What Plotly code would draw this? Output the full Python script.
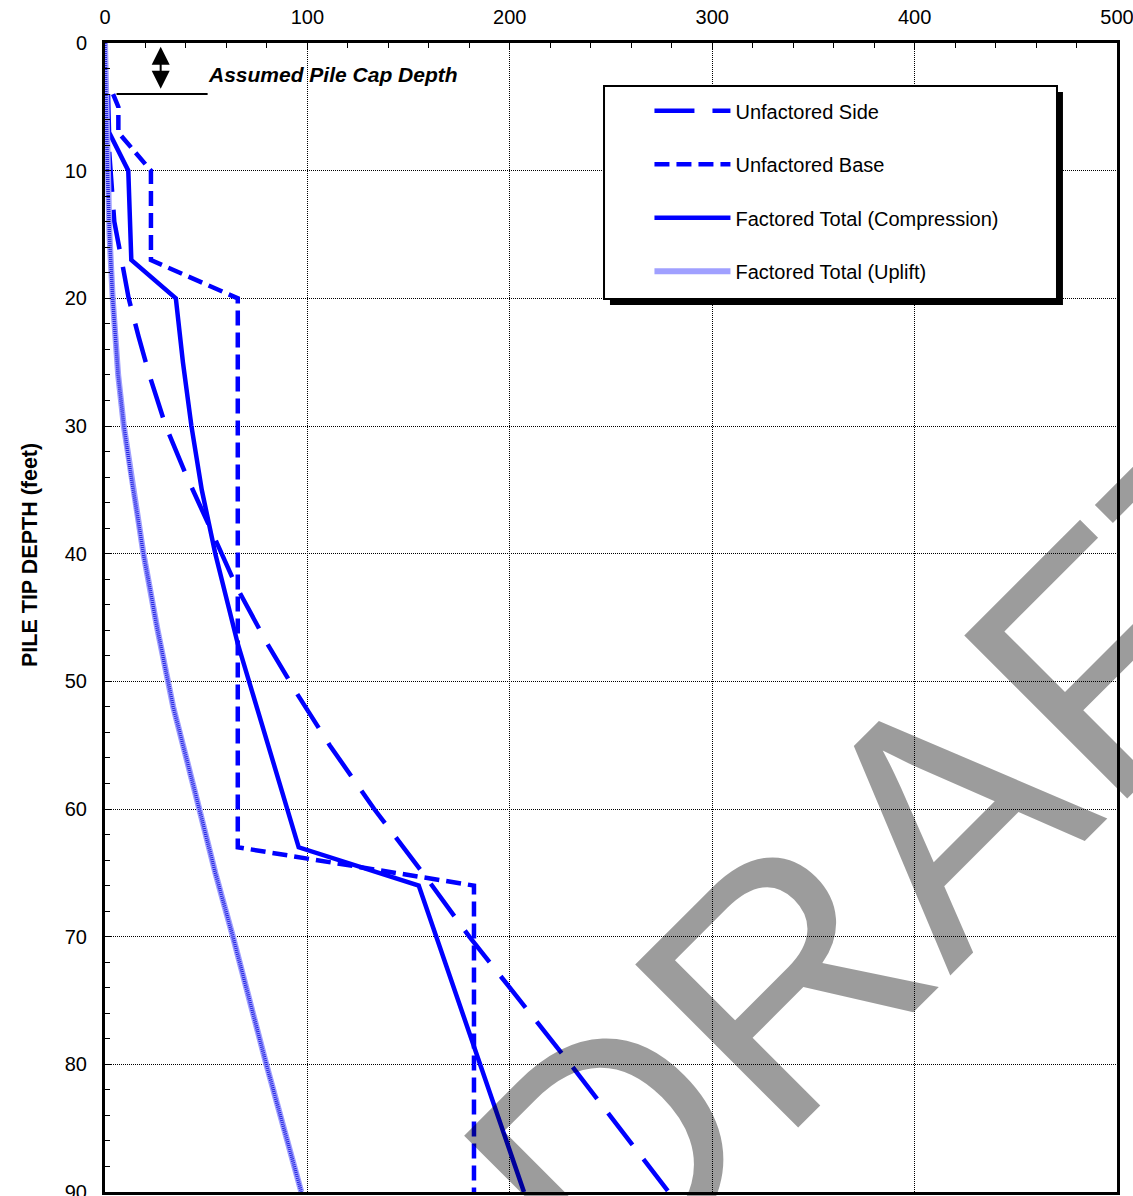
import plotly.graph_objects as go

# ---- capacity curves (kips) versus pile tip depth (feet) ----
depth_side = [4, 9, 12, 14, 17, 20, 23, 26, 30, 34, 38, 42.6, 47, 51, 55, 60, 65, 70, 76.6, 80, 90]
side = [0, 2.4, 3.4, 4.6, 8.2, 11.7, 16.6, 21.9, 30, 40.5, 52, 65, 80, 95, 111, 133, 157, 180, 213, 230, 278.5]

depth_base = [4, 5, 7, 10, 17, 20, 63, 66, 90]
base = [4.0, 6.6, 6.6, 22.7, 22.7, 65.6, 65.6, 182.3, 182.3]

depth_comp = [4, 7, 10, 17, 20, 25, 30, 35, 40, 47, 63, 66, 90]
comp = [1.5, 2.0, 11.5, 13.0, 35.0, 38.5, 42.7, 47.8, 54.5, 65.5, 95.7, 155.0, 207.0]

depth_up = [0, 5, 10, 15, 20, 26, 30, 34, 40, 46, 52, 59, 65, 70, 80, 90]
uplift = [0, 0.5, 1.2, 2.2, 3.8, 6.5, 9.3, 13.0, 19.0, 26.0, 33.7, 45.0, 54.5, 63.2, 79.7, 97.0]

series_names = ["Unfactored Side", "Unfactored Base",
                "Factored Total (Compression)", "Factored Total (Uplift)"]

x_ticks = [0, 100, 200, 300, 400, 500]
y_ticks = [0, 10, 20, 30, 40, 50, 60, 70, 80, 90]

CAP_DEPTH = 4
CAP_LABEL = "Assumed Pile Cap Depth"
Y_TITLE = "PILE TIP DEPTH (feet)"
WATERMARK = "DRAFT"

BLUE = "#0000FF"
FONT = "Arial, Liberation Sans, sans-serif"

fig = go.Figure()

fig.add_trace(go.Scatter(
    x=side, y=depth_side, mode="lines", name=series_names[0], legendgroup="g1",
    line=dict(color=BLUE, width=4.5, dash="40px,18px")))
fig.add_trace(go.Scatter(
    x=base, y=depth_base, mode="lines", name=series_names[1], legendgroup="g2",
    line=dict(color=BLUE, width=4.5, dash="15px,7px")))
fig.add_trace(go.Scatter(
    x=comp, y=depth_comp, mode="lines", name=series_names[2], legendgroup="g3",
    line=dict(color=BLUE, width=4.5)))
# uplift: pale band with a fine blue stipple on top
fig.add_trace(go.Scatter(
    x=uplift, y=depth_up, mode="lines", name=series_names[3], legendgroup="g4",
    line=dict(color="#a0a0ff", width=6)))
fig.add_trace(go.Scatter(
    x=uplift, y=depth_up, mode="lines", name=series_names[3], legendgroup="g4",
    showlegend=False, hoverinfo="skip",
    line=dict(color="#2020e0", width=3.5, dash="1px,1px")))

axis_common = dict(
    showline=True, linewidth=3, linecolor="black", mirror=True,
    showgrid=True, gridcolor="black", gridwidth=1, griddash="1px,1px",
    zeroline=False, ticks="inside", ticklen=6, tickwidth=1, tickcolor="black",
    tickfont=dict(family=FONT, size=20, color="black"),
    ticklabeloverflow="allow", automargin=False,
)

fig.update_xaxes(
    side="top", range=[0, 500], tickvals=x_ticks, ticklabelstandoff=8,
    minor=dict(dtick=20, ticks="inside", ticklen=5, tickcolor="black", showgrid=False),
    **axis_common)
fig.update_yaxes(
    range=[90, 0], tickvals=y_ticks, ticklabelstandoff=11,
    minor=dict(dtick=2, ticks="inside", ticklen=5, tickcolor="black", showgrid=False),
    **axis_common)

# legend frame with drop shadow
shapes = [
    dict(type="rect", xref="paper", yref="paper", layer="above",
         x0=0.4990, x1=0.9466, y0=0.7720, y1=0.9574,
         fillcolor="black", line=dict(width=0)),
    dict(type="rect", xref="paper", yref="paper", layer="above",
         x0=0.4931, x1=0.9407, y0=0.7772, y1=0.9626,
         fillcolor="white", line=dict(color="black", width=2)),
    # pile cap marker line
    dict(type="line", xref="x", yref="y", layer="above",
         x0=5.7, x1=50.7, y0=CAP_DEPTH, y1=CAP_DEPTH,
         line=dict(color="black", width=2)),
]

annotations = [
    dict(text=WATERMARK, xref="paper", yref="paper", x=0.8060, y=0.3055,
         xanchor="center", yanchor="middle", showarrow=False, textangle=-45,
         font=dict(family=FONT, size=335, color="rgba(0,0,0,0.39)")),
    dict(text="<b>" + Y_TITLE + "</b>", xref="paper", yref="paper",
         x=-0.0741, y=0.5544, xanchor="center", yanchor="middle",
         showarrow=False, textangle=-90,
         font=dict(family=FONT, size=21.5, color="black")),
    dict(text="<b><i>" + CAP_LABEL + "</i></b>", xref="x", yref="y",
         x=50.0, y=2.45, xanchor="left", yanchor="middle", showarrow=False,
         font=dict(family=FONT, size=21, color="black")),
    dict(text="", xref="x", yref="y", x=27.5, y=0.3,
         axref="x", ayref="y", ax=27.5, ay=CAP_DEPTH - 0.3,
         showarrow=True, arrowside="end+start", arrowhead=2,
         arrowsize=1.8, arrowwidth=2, arrowcolor="black"),
]

fig.update_layout(
    width=1133, height=1196,
    margin=dict(l=105, r=16, t=43, b=4, autoexpand=False),
    paper_bgcolor="white", plot_bgcolor="white",
    font=dict(family=FONT, size=20, color="black"),
    showlegend=True,
    legend=dict(x=0.538, y=0.958, xanchor="left", yanchor="top",
                bgcolor="rgba(0,0,0,0)", borderwidth=0,
                font=dict(family=FONT, size=20, color="black"),
                itemwidth=76, tracegroupgap=24.5, traceorder="grouped"),
    shapes=shapes, annotations=annotations,
)

fig.write_html("out.html")
